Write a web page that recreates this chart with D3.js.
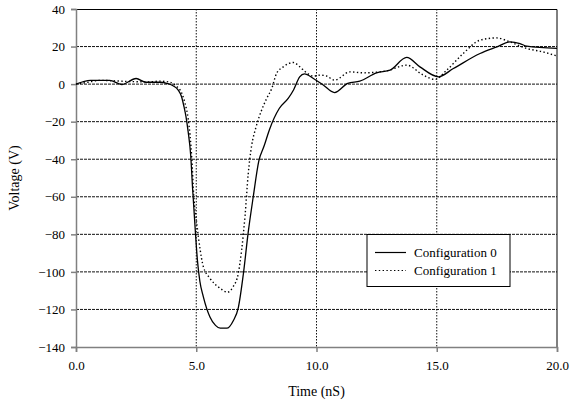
<!DOCTYPE html>
<html>
<head>
<meta charset="utf-8">
<script src="https://cdn.jsdelivr.net/npm/d3@7"></script>
<style>
  html, body { margin: 0; padding: 0; background: #fff; }
  text { font-family: "Liberation Serif", "Times New Roman", serif; fill: #000; }
</style>
</head>
<body>
<div id="chart"></div>
<script>
// values
const time0 = [0, 0.6, 1.4, 1.9, 2.5, 2.9, 3.5, 3.8, 4.05, 4.25, 4.39, 4.49, 4.57, 4.66, 4.77, 4.85, 4.95, 5.05, 5.15, 5.29, 5.57, 5.8, 6.0, 6.27, 6.54, 6.75, 6.96, 7.16, 7.37, 7.6, 7.82, 8.05, 8.45, 8.83, 9.05, 9.3, 9.5, 9.87, 10.28, 10.75, 11.3, 11.8, 12.5, 13.06, 13.75, 14.3, 15.07, 15.69, 16.8, 17.5, 18.05, 18.46, 18.74, 20];
const config0 = [0, 2, 2, -0.2, 3, 1, 1, 0.3, -1, -3.2, -6.7, -12, -17, -25, -38, -56, -76, -94, -105, -113, -124, -128.5, -130, -130, -126, -119, -101, -79, -60, -41, -33, -24, -13, -7.5, -3, 3.9, 5.5, 3, -0.5, -4.5, 0.4, 1.6, 6, 7.4, 14.2, 9.2, 3.9, 8.3, 16.3, 19.8, 22.5, 21.6, 20.2, 19];

const time1 = [0, 0.5, 1.0, 1.5, 2.0, 2.5, 3.0, 3.5, 3.95, 4.16, 4.39, 4.53, 4.67, 4.74, 4.81, 4.9, 5.02, 5.16, 5.29, 5.57, 5.99, 6.29, 6.54, 6.75, 6.89, 7.03, 7.16, 7.3, 7.47, 7.72, 7.93, 8.14, 8.34, 8.62, 9.04, 9.31, 9.59, 9.87, 10.15, 10.42, 10.75, 11.39, 11.95, 12.92, 13.75, 14.44, 14.93, 15.41, 16.1, 16.8, 17.49, 18.04, 18.74, 19.4, 20];
const config1 = [0, 1, 2, 1.8, 1.5, 1.3, 1.2, 1.6, 0.8, -1, -4.6, -10, -19, -27, -38.7, -60, -74, -88, -97, -103.4, -108.7, -110.8, -107.8, -100.7, -88, -70, -48, -33, -23.6, -13.8, -7.6, -2.3, 5.7, 9.2, 11.5, 9.2, 6, 4.3, 4.8, 4.3, 2.1, 6.5, 6, 7.1, 10.1, 4.8, 2.5, 7.4, 16.3, 23.4, 24.6, 22.5, 19, 17.2, 15];

const seriesNames = ["Configuration 0", "Configuration 1"];
const xTicks = [0, 5, 10, 15, 20];
const yTicks = [-140, -120, -100, -80, -60, -40, -20, 0, 20, 40];

// layout
const WIDTH = 576, HEIGHT = 406;
const margin = { top: 9, right: 19, bottom: 59, left: 76 };
const width = WIDTH - margin.left - margin.right;
const height = HEIGHT - margin.top - margin.bottom;

const svg = d3.select("#chart").append("svg")
  .attr("width", WIDTH)
  .attr("height", HEIGHT);

const g = svg.append("g").attr("transform", `translate(${margin.left},${margin.top})`);

const x = d3.scaleLinear().domain([0, 20]).range([0, width]);
const y = d3.scaleLinear().domain([-140, 40]).range([height, 0]);

// horizontal gridlines (dashed, dark)
g.append("g").selectAll("line")
  .data(yTicks.filter(d => d > -140 && d < 40))
  .join("line")
  .attr("x1", 0).attr("x2", width)
  .attr("y1", d => y(d)).attr("y2", d => y(d))
  .attr("stroke", "#111")
  .attr("stroke-width", 1)
  .attr("stroke-dasharray", "3 1");

// vertical gridlines (dotted)
g.append("g").selectAll("line")
  .data(xTicks.filter(d => d > 0 && d < 20))
  .join("line")
  .attr("x1", d => x(d)).attr("x2", d => x(d))
  .attr("y1", 0).attr("y2", height)
  .attr("stroke", "#111")
  .attr("stroke-width", 1)
  .attr("stroke-dasharray", "1.5 1.5");

// top + right frame
g.append("path")
  .attr("d", `M0,0.5H${width}V${height}`)
  .attr("fill", "none")
  .attr("stroke", "#000")
  .attr("stroke-width", 1);

// axes
const xAxis = g.append("g")
  .attr("transform", `translate(0,${height})`)
  .call(d3.axisBottom(x).tickValues(xTicks).tickFormat(d3.format(".1f")).tickSizeOuter(0).tickSize(5).tickPadding(9));
const yAxis = g.append("g")
  .call(d3.axisLeft(y).tickValues(yTicks).tickFormat(d3.format("d")).tickSizeOuter(0).tickSize(5).tickPadding(6));

[xAxis, yAxis].forEach(a => {
  a.attr("font-family", null);
  a.select(".domain").attr("stroke", "#808080").attr("stroke-width", 1.5);
  a.selectAll(".tick line").attr("stroke", "#808080").attr("stroke-width", 1.5);
  a.selectAll("text")
    .style("font-family", '"Liberation Serif", "Times New Roman", serif')
    .style("font-size", "13px")
    .attr("fill", "#000");
});

// axis titles
svg.append("text")
  .attr("x", margin.left + width / 2)
  .attr("y", 396)
  .attr("text-anchor", "middle")
  .style("font-size", "14px")
  .text("Time (nS)");

svg.append("text")
  .attr("transform", `translate(19,${margin.top + height / 2}) rotate(-90)`)
  .attr("text-anchor", "middle")
  .style("font-size", "14px")
  .text("Voltage (V)");

// lines
const lineGen = d3.line()
  .x(d => x(d[0]))
  .y(d => y(d[1]))
  .curve(d3.curveMonotoneX);

const data0 = time0.map((t, i) => [t, config0[i]]);
const data1 = time1.map((t, i) => [t, config1[i]]);

g.append("path")
  .datum(data1)
  .attr("d", lineGen)
  .attr("fill", "none")
  .attr("stroke", "#000")
  .attr("stroke-width", 1.4)
  .attr("stroke-dasharray", "1.4 2.4");

g.append("path")
  .datum(data0)
  .attr("d", lineGen)
  .attr("fill", "none")
  .attr("stroke", "#000")
  .attr("stroke-width", 1.3);

// legend
const legend = svg.append("g").attr("transform", "translate(367,234.5)");
legend.append("rect")
  .attr("width", 143).attr("height", 52)
  .attr("fill", "#fff")
  .attr("stroke", "#000")
  .attr("stroke-width", 1);

seriesNames.forEach((name, i) => {
  const row = legend.append("g").attr("transform", `translate(0,${18 + i * 18})`);
  row.append("line")
    .attr("x1", 8).attr("x2", 39)
    .attr("y1", 0).attr("y2", 0)
    .attr("stroke", "#000")
    .attr("stroke-width", 1.2)
    .attr("stroke-dasharray", i === 1 ? "1.4 2.4" : null);
  row.append("text")
    .attr("x", 47)
    .attr("y", 4.5)
    .style("font-size", "13px")
    .text(name);
});
</script>
</body>
</html>
